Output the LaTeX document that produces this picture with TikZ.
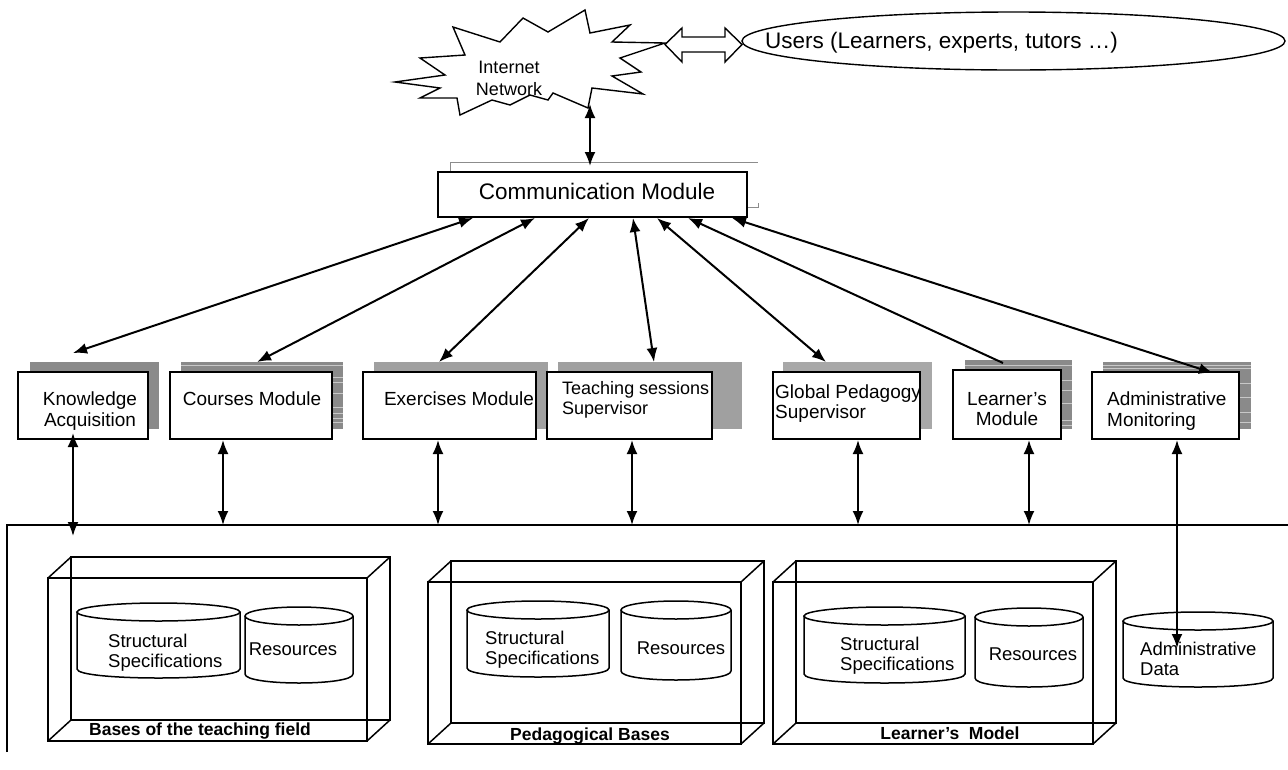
\documentclass[tikz,border=0pt]{standalone}
\usepackage{fontspec}
\setmainfont{Liberation Sans}
\usetikzlibrary{arrows.meta}
\definecolor{shdark}{HTML}{8A8A8A}
\definecolor{shmid}{HTML}{A0A0A0}
\definecolor{shlight}{HTML}{A8A8A8}
\definecolor{streak}{HTML}{C8C8C8}
\definecolor{rim}{HTML}{8C8C8C}

% front face x1,y1,x2,y2 of a wire-frame crate, depth offset (23,-21)
\newcommand\crate[4]{%
  \draw[crateline] (#1,#2) rectangle (#3,#4);
  \draw[crateline] (#1+23,#2-21) rectangle (#3+23,#4-21);
  \draw[crateline] (#1,#2) -- (#1+23,#2-21) (#3,#2) -- (#3+23,#2-21)
                   (#1,#4) -- (#1+23,#4-21) (#3,#4) -- (#3+23,#4-21);
}
% database drum: x1, x2, top, bottom
\newcommand\drum[4]{%
  \pgfmathsetmacro\drumcx{(#1+#2)/2}%
  \pgfmathsetmacro\drumrx{(#2-#1)/2}%
  \draw[drumline, fill=white] (#1,#3+9) -- (#1,#4-9)
      .. controls (#1,#4+3) and (#2,#4+3) .. (#2,#4-9) -- (#2,#3+9);
  \draw[drumline, fill=white] (\drumcx,#3+9) ellipse [x radius=\drumrx pt, y radius=9pt];
}

\begin{document}
\begin{tikzpicture}[x=1pt,y=-1pt,
  modbox/.style={draw, line width=2pt, fill=white, inner sep=0pt},
  modtext/.style={font=\fontsize{19}{20.5}\selectfont, inner sep=0pt},
  basetext/.style={font=\fontsize{18.5}{20}\selectfont, inner sep=0pt},
  cratetext/.style={font=\bfseries\fontsize{17.5}{19}\selectfont, inner sep=0pt},
  crateline/.style={line width=1.5pt, line join=miter},
  drumline/.style={line width=1.5pt},
  thinline/.style={line width=1.4pt},
  tips/.style={{Latex[length=14pt,width=11pt]}-{Latex[length=14pt,width=11pt]}, line width=2pt},
  onetip/.style={-{Latex[length=14pt,width=11pt]}, line width=2pt},
  streakline/.style={streak, line width=0.6pt},
]
\useasboundingbox (0,0) rectangle (1288,769);

% ---------- Internet cloud ----------
\draw[thinline, fill=white, line join=miter]
  (395,82) -- (445,75) -- (420,58) -- (465,55) -- (453,27) -- (500,42)
  -- (523,18) -- (548,32) -- (585,10) -- (590,33) -- (630,25) -- (612,42)
  -- (665,43) -- (620,58) -- (641,72) -- (612,76) -- (643,94) -- (592,88)
  -- (588,108) -- (553,93) -- (548,100) -- (530,95) -- (510,105) -- (492,100)
  -- (460,115) -- (457,98) -- (420,98) -- (440,88) -- cycle;
\node[font=\fontsize{18}{21.5}\selectfont, align=center, inner sep=0pt, anchor=north]
  (net) at (509,61) {Internet\\Network};

% hollow double arrow to the users
\draw[thinline, fill=white, line join=miter]
  (665,44.5) -- (682,28) -- (682,37) -- (725,37) -- (725,28) -- (742,44.5)
  -- (725,62) -- (725,52) -- (682,52) -- (682,62) -- cycle;

% users
\draw[thinline] (1013.5,41) ellipse [x radius=271.5pt, y radius=29pt];
\node[font=\fontsize{22.5}{26}\selectfont, inner sep=0pt, anchor=base west]
  (users) at (765,48) {Users (Learners, experts, tutors …)};

% ---------- Communication module ----------
\draw[rim, line width=0.8pt] (450,172) -- (450,162.5) -- (758,162.5);
\draw[rim, line width=0.8pt] (748,207) -- (758,207) -- (758,203);
\node[modbox, minimum width=309, minimum height=45] (comm) at (592.5,194.5) {};
\node[font=\fontsize{22.5}{26}\selectfont, inner sep=0pt, anchor=base]
  (commt) at (597,199) {Communication Module};

\coordinate (netfoot) at (590,104);
\coordinate (commtop) at (590,166);
\draw[tips] (netfoot) -- (commtop);

% ---------- module shadows ----------
\fill[shdark] (30,362) rectangle (159,429);
\fill[shdark] (181,362) rectangle (343,429);
\foreach \yy in {365,377,382,393,407,413,418,422}
  \draw[streakline] (181,\yy) -- (343,\yy);
\fill[shmid] (374,362) rectangle (548,429);
\fill[shmid] (558,362) rectangle (742,429);
\fill[shlight] (783,362) rectangle (932,429);
\fill[shdark] (965,360) rectangle (1072,429);
\foreach \yy in {365,380,390,403,420,425}
  \draw[streakline] (965,\yy) -- (1072,\yy);
\fill[shdark] (1103,362) rectangle (1251,429);
\foreach \yy in {365,368,383,397,412,422}
  \draw[streakline] (1103,\yy) -- (1251,\yy);

% ---------- modules ----------
\node[modbox, minimum width=130, minimum height=67] (ka) at (83,405.5) {};
\node[modbox, minimum width=162, minimum height=67] (cm) at (251,405.5) {};
\node[modbox, minimum width=173, minimum height=67] (em) at (449.5,405.5) {};
\node[modbox, minimum width=165, minimum height=67] (ts) at (629.5,405.5) {};
\node[modbox, minimum width=147, minimum height=67] (gp) at (846.5,405.5) {};
\node[modbox, minimum width=108, minimum height=69] (lm) at (1007,404.5) {};
\node[modbox, minimum width=147, minimum height=67] (am) at (1165.5,405.5) {};

\node[modtext, align=center, anchor=north] (kat) at (90,392) {Knowledge\\Acquisition};
\node[modtext, anchor=north] (cmt) at (252,392) {Courses Module};
\node[modtext, anchor=north] (emt) at (459,392) {Exercises Module};
\node[modtext, font=\fontsize{18}{20}\selectfont, align=left, anchor=north west]
  (tst) at (562,381.5) {Teaching sessions\\Supervisor};
\node[modtext, align=left, anchor=north west] (gpt) at (775,384.5) {Global Pedagogy\\Supervisor};
\node[modtext, align=center, anchor=north] (lmt) at (1007,392) {Learner’s\\Module};
\node[modtext, align=left, anchor=north west] (amt) at (1107,392) {Administrative\\Monitoring};

% ---------- links from the communication module ----------
\coordinate (c1) at (473,218);  \coordinate (m1) at (73,353);
\coordinate (c2) at (535,218);  \coordinate (m2) at (257,362);
\coordinate (c3) at (589,218);  \coordinate (m3) at (439,362);
\coordinate (c4) at (633,218);  \coordinate (m4) at (654,362);
\coordinate (c5) at (657,218);  \coordinate (m5) at (826,362);
\coordinate (c6) at (688,218);  \coordinate (m6) at (1003,363);
\coordinate (c7) at (732,218);  \coordinate (m7) at (1213,373);
\draw[tips] (c1) -- (m1);
\draw[tips] (c2) -- (m2);
\draw[tips] (c3) -- (m3);
\draw[tips] (c4) -- (m4);
\draw[tips] (c5) -- (m5);
\draw[onetip] (m6) -- (c6);
\draw[tips] (c7) -- (m7);

% ---------- data layer ----------
\coordinate (busL) at (7,525);
\coordinate (busR) at (1288,525);
\coordinate (busFoot) at (7,752);
\draw[line width=1.8pt] (busFoot) -- (busL) -- (busR);

\crate{48}{578}{367}{741}
\crate{428}{582}{741}{744}
\crate{773}{582}{1093}{744}

\node[cratetext, anchor=base] (b1) at (200,735) {Bases of the teaching field};
\node[cratetext, anchor=base] (b2) at (590,740) {Pedagogical Bases};
\node[cratetext, anchor=base] (b3) at (950,739) {Learner’s~~Model};

\drum{77}{240}{603}{678}
\drum{245}{353}{607}{683}
\drum{467}{609}{601}{677}
\drum{621}{731}{601}{680}
\drum{804}{965}{607}{683}
\drum{975}{1083}{608}{687}
\drum{1123}{1273}{612}{687}

\node[basetext, align=left, anchor=north west] (s1) at (108,634) {Structural\\Specifications};
\node[basetext] (r1) at (293,649) {Resources};
\node[basetext, align=left, anchor=north west] (s2) at (485,631) {Structural\\Specifications};
\node[basetext] (r2) at (681,648) {Resources};
\node[basetext, align=left, anchor=north west] (s3) at (840,637) {Structural\\Specifications};
\node[basetext] (r3) at (1033,654) {Resources};
\node[basetext, align=left, anchor=north west] (ad) at (1140,642) {Administrative\\Data};

% ---------- links from the modules to the data layer ----------
\coordinate (v1a) at (73,433);   \coordinate (v1b) at (73,536);
\coordinate (v2a) at (223,440);  \coordinate (v2b) at (223,525);
\coordinate (v3a) at (438,440);  \coordinate (v3b) at (438,525);
\coordinate (v4a) at (632,440);  \coordinate (v4b) at (632,525);
\coordinate (v5a) at (858,440);  \coordinate (v5b) at (858,525);
\coordinate (v6a) at (1029,440); \coordinate (v6b) at (1029,525);
\coordinate (v7a) at (1177,440); \coordinate (v7b) at (1177,648);
\foreach \i in {1,...,7} \draw[tips] (v\i a) -- (v\i b);
\end{tikzpicture}
\end{document}
